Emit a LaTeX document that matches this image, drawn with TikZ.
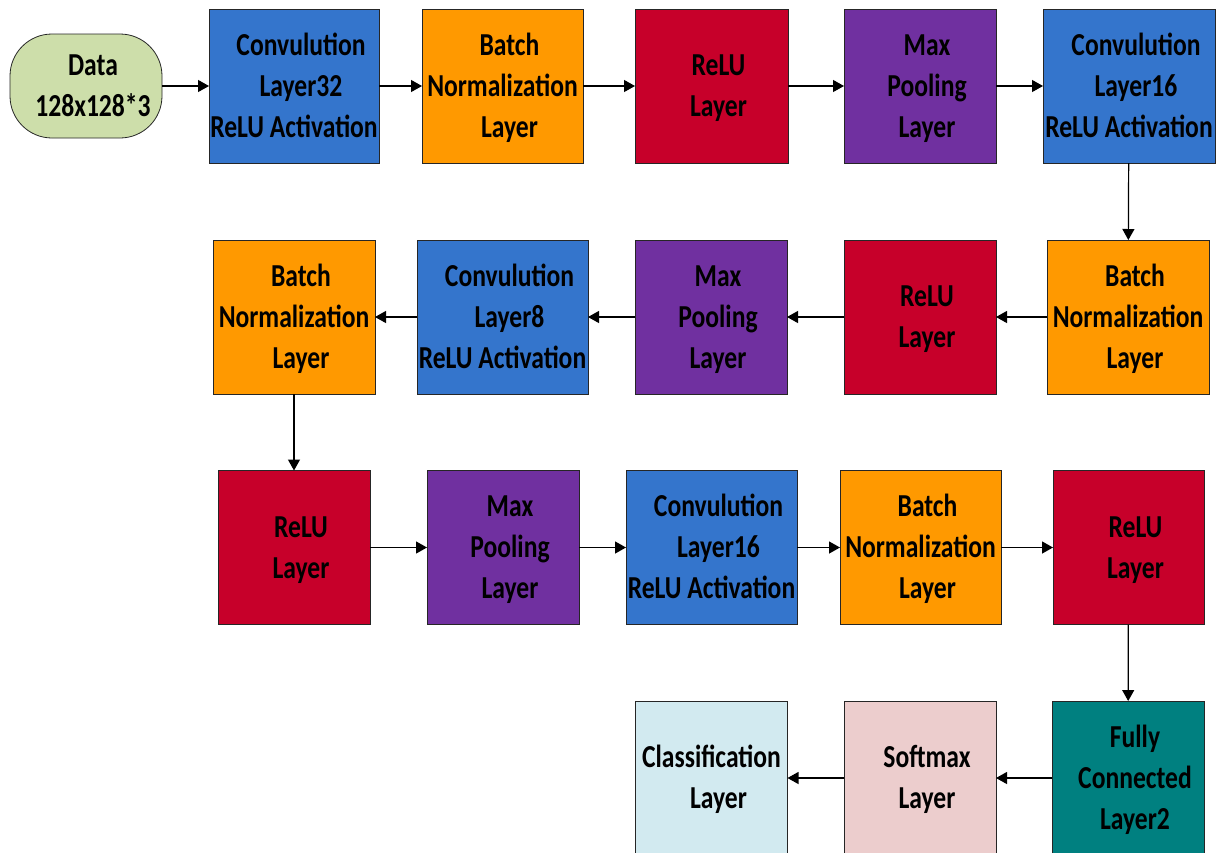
\documentclass[tikz,border=0pt]{standalone}
\usepackage{fontspec}
\newfontfamily\lbl[FakeStretch=0.8]{Carlito}
\usetikzlibrary{arrows.meta}
\definecolor{cblue}{RGB}{52,117,204}
\definecolor{corange}{RGB}{255,153,0}
\definecolor{cred}{RGB}{199,0,42}
\definecolor{cpurple}{RGB}{112,48,160}
\definecolor{cgreen}{RGB}{205,222,170}
\definecolor{cteal}{RGB}{0,128,128}
\definecolor{cpink}{RGB}{236,205,205}
\definecolor{clight}{RGB}{210,234,240}
\newcommand\sh{\hspace*{14pt}}
\newcommand\fs{\rule{0pt}{28pt}}
\newcommand\ls{\rule[-8pt]{0pt}{0pt}}
\tikzset{
  layer/.style={draw=black!85, line width=0.8pt, fill=#1, minimum height=154pt,
    inner sep=0pt, outer sep=0pt, align=center,
    font={\lbl\bfseries\fontsize{32}{41}\selectfont}},
  datanode/.style={draw=black!85, line width=0.8pt, fill=cgreen, rounded corners=42pt,
    minimum width=152pt, minimum height=104pt, inner sep=0pt, outer sep=0pt, align=center,
    font={\lbl\bfseries\fontsize{32}{41}\selectfont}},
  conn/.style={draw=black, line width=1.2pt, -{Triangle[length=11pt,width=12pt]}}
}
\begin{document}
\begin{tikzpicture}[x=1pt,y=-1pt]
\useasboundingbox (0,0) rectangle (1220,852);
% row 1
\node[datanode] (data) at (86,86) {\fs\sh Data\\\sh 128x128*3\ls};
\node[layer=cblue, minimum width=170pt] (c1) at (294,86) {\fs\sh Convulution\\\sh Layer32\\ReLU Activation\ls};
\node[layer=corange, minimum width=161pt] (b1) at (502.5,86) {\fs\sh Batch\\Normalization\\\sh Layer\ls};
\node[layer=cred, minimum width=153pt] (r1) at (711.5,86) {\fs\sh ReLU\\\sh Layer\ls};
\node[layer=cpurple, minimum width=152pt] (m1) at (920,86) {\fs\sh Max\\\sh Pooling\\\sh Layer\ls};
\node[layer=cblue, minimum width=172pt] (c2) at (1129,86) {\fs\sh Convulution\\\sh Layer16\\ReLU Activation\ls};
% row 2
\node[layer=corange, minimum width=162pt] (b2) at (1128,317) {\fs\sh Batch\\Normalization\\\sh Layer\ls};
\node[layer=cred, minimum width=152pt] (r2) at (920,317) {\fs\sh ReLU\\\sh Layer\ls};
\node[layer=cpurple, minimum width=152pt] (m2) at (711,317) {\fs\sh Max\\\sh Pooling\\\sh Layer\ls};
\node[layer=cblue, minimum width=171pt] (c3) at (502.5,317) {\fs\sh Convulution\\\sh Layer8\\ReLU Activation\ls};
\node[layer=corange, minimum width=162pt] (b3) at (294,317) {\fs\sh Batch\\Normalization\\\sh Layer\ls};
% row 3
\node[layer=cred, minimum width=152pt] (r3) at (294,547.5) {\fs\sh ReLU\\\sh Layer\ls};
\node[layer=cpurple, minimum width=152pt] (m3) at (503,547.5) {\fs\sh Max\\\sh Pooling\\\sh Layer\ls};
\node[layer=cblue, minimum width=171pt] (c4) at (711.5,547.5) {\fs\sh Convulution\\\sh Layer16\\ReLU Activation\ls};
\node[layer=corange, minimum width=161pt] (b4) at (920.5,547.5) {\fs\sh Batch\\Normalization\\\sh Layer\ls};
\node[layer=cred, minimum width=151pt] (r4) at (1128.5,547.5) {\fs\sh ReLU\\\sh Layer\ls};
% row 4
\node[layer=cteal, minimum width=152pt] (fc) at (1128,778) {\fs\sh Fully\\\sh Connected\\\sh Layer2\ls};
\node[layer=cpink, minimum width=152pt] (sm) at (920,778) {\fs\sh Softmax\\\sh Layer\ls};
\node[layer=clight, minimum width=152pt] (cl) at (711.5,778) {\fs Classification\\\sh Layer\ls};
% connectors
\draw[conn] (data) -- (c1);
\draw[conn] (c1) -- (b1);
\draw[conn] (b1) -- (r1);
\draw[conn] (r1) -- (m1);
\draw[conn] (m1) -- (c2);
\draw[conn] (c2) -- (b2);
\draw[conn] (b2) -- (r2);
\draw[conn] (r2) -- (m2);
\draw[conn] (m2) -- (c3);
\draw[conn] (c3) -- (b3);
\draw[conn] (b3) -- (r3);
\draw[conn] (r3) -- (m3);
\draw[conn] (m3) -- (c4);
\draw[conn] (c4) -- (b4);
\draw[conn] (b4) -- (r4);
\draw[conn] (r4) -- (fc);
\draw[conn] (fc) -- (sm);
\draw[conn] (sm) -- (cl);
\end{tikzpicture}
\end{document}
